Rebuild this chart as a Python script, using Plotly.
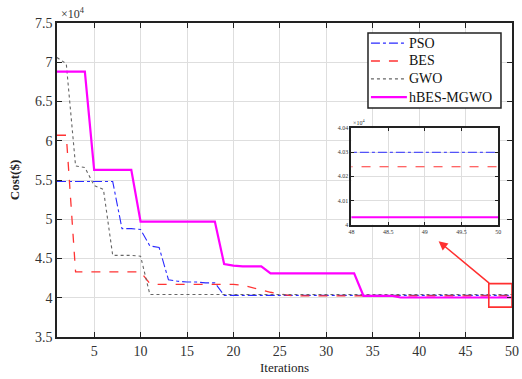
import plotly.graph_objects as go

iterations = list(range(1, 51))
# costs in units of 1e4 $
pso = [5.48, 5.48, 5.48, 5.48, 5.48, 5.48, 5.48, 4.88, 4.88, 4.87,
       4.66, 4.64, 4.23, 4.21, 4.20, 4.20, 4.19, 4.19, 4.03, 4.03,
       4.03, 4.03, 4.03, 4.03, 4.03, 4.03, 4.03, 4.03, 4.03, 4.03,
       4.03, 4.03, 4.03, 4.03, 4.03, 4.03, 4.03, 4.03, 4.03, 4.03,
       4.03, 4.03, 4.03, 4.03, 4.03, 4.03, 4.03, 4.03, 4.03, 4.03]
bes = [6.07, 6.07, 4.33, 4.33, 4.33, 4.33, 4.33, 4.33, 4.33, 4.33,
       4.18, 4.17, 4.17, 4.17, 4.17, 4.17, 4.17, 4.17, 4.17, 4.17,
       4.16, 4.13, 4.10, 4.07, 4.05, 4.03, 4.024, 4.024, 4.024, 4.024,
       4.024, 4.024, 4.024, 4.024, 4.024, 4.024, 4.024, 4.024, 4.024, 4.024,
       4.024, 4.024, 4.024, 4.024, 4.024, 4.024, 4.024, 4.024, 4.024, 4.024]
gwo = [7.06, 6.98, 5.68, 5.66, 5.43, 5.38, 4.54, 4.54, 4.54, 4.53,
       4.042, 4.042, 4.042, 4.042, 4.042, 4.042, 4.042, 4.042, 4.042, 4.042,
       4.042, 4.042, 4.042, 4.042, 4.042, 4.042, 4.042, 4.042, 4.042, 4.042,
       4.042, 4.042, 4.042, 4.042, 4.042, 4.042, 4.042, 4.042, 4.042, 4.042,
       4.042, 4.042, 4.042, 4.042, 4.042, 4.042, 4.042, 4.042, 4.042, 4.042]
hbes = [6.88, 6.88, 6.88, 6.88, 5.63, 5.63, 5.63, 5.63, 5.63, 4.97,
        4.97, 4.97, 4.97, 4.97, 4.97, 4.97, 4.97, 4.97, 4.43, 4.41,
        4.40, 4.40, 4.40, 4.31, 4.31, 4.31, 4.31, 4.31, 4.31, 4.31,
        4.31, 4.31, 4.31, 4.025, 4.025, 4.025, 4.025, 4.003, 4.003, 4.003,
        4.003, 4.003, 4.003, 4.003, 4.003, 4.003, 4.003, 4.003, 4.003, 4.003]

names = ["PSO", "BES", "GWO", "hBES-MGWO"]
series = [pso, bes, gwo, hbes]
colors = ["#2a2aff", "#ff3333", "#666666", "#ff00ff"]
dashes = ["dashdot", "dash", "dot", "solid"]
widths = [1.1, 1.3, 1.1, 2.2]

main_xticks = [5, 10, 15, 20, 25, 30, 35, 40, 45, 50]
main_yticks = [3.5, 4, 4.5, 5, 5.5, 6, 6.5, 7, 7.5]
inset_xticks = [48, 48.5, 49, 49.5, 50]
inset_yticks = [4.0, 4.01, 4.02, 4.03, 4.04]

FONT = "Liberation Serif"

fig = go.Figure()
for n, s, c, d, w in zip(names, series, colors, dashes, widths):
    fig.add_trace(go.Scatter(x=iterations, y=s, mode="lines", name=n,
                             line=dict(color=c, dash=d, width=w),
                             xaxis="x", yaxis="y", showlegend=False))
for n, s, c, d, w in zip(names, series, colors, dashes, widths):
    fig.add_trace(go.Scatter(x=iterations, y=s, mode="lines", name=n,
                             line=dict(color=c, dash=d, width=w * 0.9),
                             xaxis="x2", yaxis="y2", showlegend=False))

axis_common = dict(showline=True, linecolor="#222", mirror="ticks",
                   ticks="inside", tickcolor="#222", showgrid=True,
                   gridcolor="#dedede", gridwidth=1, zeroline=False, automargin=False)

fig.update_layout(
    width=522, height=379,
    margin=dict(l=57, r=10, t=23, b=42),
    paper_bgcolor="white", plot_bgcolor="white",
    font=dict(family=FONT, color="#333", size=13),
    showlegend=False,
    xaxis=dict(range=[1, 50], tickvals=main_xticks, linewidth=1.6, ticklen=5,
               tickfont=dict(size=14, color="#333"),
               title=dict(text="Iterations", font=dict(size=13, color="#222"), standoff=5),
               domain=[0, 1], **axis_common),
    yaxis=dict(range=[3.5, 7.5], tickvals=main_yticks,
               ticktext=[str(v) for v in main_yticks], linewidth=1.6, ticklen=5,
               tickfont=dict(size=14, color="#333"),
               title=dict(text="<b>Cost($)</b>", font=dict(size=13, color="#222"), standoff=12),
               domain=[0, 1], **axis_common),
    xaxis2=dict(range=[48, 50], tickvals=inset_xticks, anchor="y2",
                domain=[0.647, 0.970], linewidth=2, ticklen=3,
                tickfont=dict(size=6, color="#333"), **axis_common),
    yaxis2=dict(range=[4.0, 4.04], tickvals=inset_yticks,
                ticktext=["4", "4.01", "4.02", "4.03", "4.04"], anchor="x2",
                domain=[0.358, 0.665], linewidth=2, ticklen=3,
                tickfont=dict(size=6, color="#333"), **axis_common),
)

# white background for inset
fig.add_shape(type="rect", xref="x2 domain", yref="y2 domain", x0=0, x1=1, y0=0, y1=1,
              fillcolor="white", line=dict(width=0), layer="below")
# zoom box
fig.add_shape(type="rect", xref="x", yref="y", x0=47.5, x1=50.0, y0=3.88, y1=4.18,
              line=dict(color="#ff3030", width=1.6), fillcolor="rgba(0,0,0,0)")
# arrow
fig.add_annotation(x=42.1, y=4.72, xref="x", yref="y", ax=47.7, ay=4.17,
                   axref="x", ayref="y", showarrow=True, arrowhead=2, arrowsize=1.2,
                   arrowwidth=1.5, arrowcolor="#ff3030", text="")
# exponent labels
fig.add_annotation(x=0.005, y=1.0, xref="paper", yref="paper", xanchor="left", yanchor="bottom",
                   text="×10<sup>4</sup>", showarrow=False, font=dict(size=12, color="#333"))
fig.add_annotation(x=0.0, y=1.0, xref="x2 domain", yref="y2 domain", xanchor="left", yanchor="bottom",
                   text="×10<sup>4</sup>", showarrow=False, font=dict(size=6, color="#333"))

# legend (MATLAB style box)
leg_x0, leg_x1, leg_y0, leg_y1 = 0.6835, 0.9758, 0.729, 0.968
fig.add_shape(type="rect", xref="paper", yref="paper", x0=leg_x0, x1=leg_x1, y0=leg_y0, y1=leg_y1,
              fillcolor="white", line=dict(color="#222", width=1.5), layer="above")
leg_rows = [0.936, 0.879, 0.822, 0.764]
for n, c, d, w, ry in zip(names, colors, dashes, widths, leg_rows):
    fig.add_shape(type="line", xref="paper", yref="paper", x0=0.690, x1=0.769, y0=ry, y1=ry,
                  line=dict(color=c, dash=d, width=w), layer="above")
    fig.add_annotation(x=0.770, y=ry, xref="paper", yref="paper", xanchor="left", yanchor="middle",
                       text=n, showarrow=False, font=dict(family=FONT, size=14, color="#111"))

fig.write_html("out.html", config={"displayModeBar": False},
               post_script="document.body.style.margin='0';document.body.style.overflow='hidden';")
